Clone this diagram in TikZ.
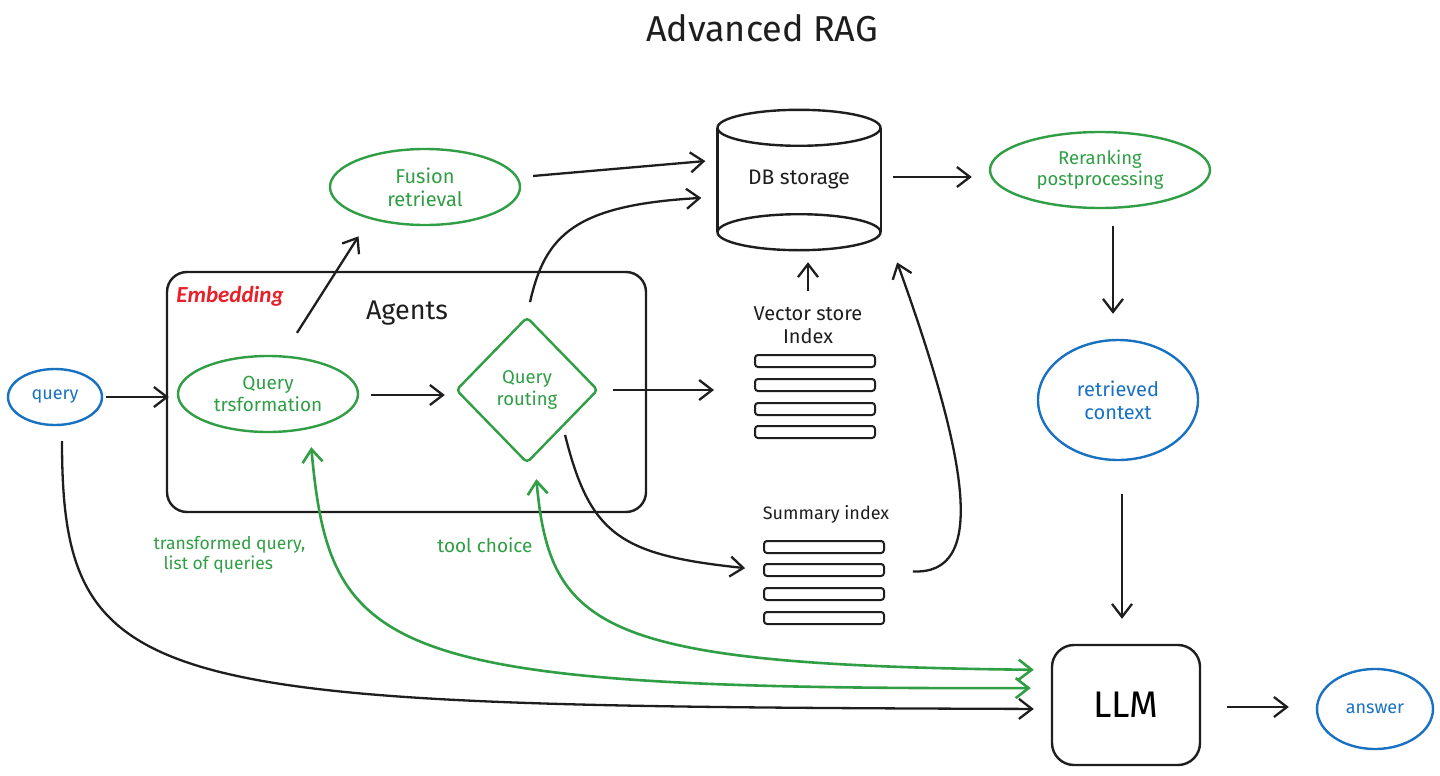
\documentclass[tikz,border=0pt]{standalone}
\usepackage{fontspec}
\setmainfont{Fira Sans}
\newfontfamily\embfont{Carlito}
\usetikzlibrary{shapes.geometric,arrows.meta}
\definecolor{ink}{HTML}{1E1E1E}
\definecolor{grn}{HTML}{2F9E44}
\definecolor{blu}{HTML}{1971C2}
\definecolor{redd}{HTML}{E8202A}
\newcommand{\fsz}[1]{\fontsize{#1}{1.15\dimexpr #1pt\relax}\selectfont}
\begin{document}
\begin{tikzpicture}[x=1pt,y=-1pt,
  tipb/.tip={Straight Barb[length=13pt,width=20pt]},
  arr/.style={draw=ink, line width=2.3pt, -tipb},
  garr/.style={draw=grn, line width=2.6pt, tipb-tipb},
  ell/.style={ellipse, draw, line width=2.4pt, inner sep=0pt, align=center, font=\fsz{19}},
  gell/.style={ell, draw=grn, text=grn},
  bell/.style={ell, draw=blu, text=blu},
  bar/.style={draw=ink, line width=2pt, rounded corners=3pt, minimum width=120pt, minimum height=12pt, inner sep=0pt},
  lbl/.style={font=\fsz{19}, text=ink, align=center},
]
\useasboundingbox (0,0) rectangle (1440,776);
\fill[white] (0,0) rectangle (1440,776);

% nodes
\node[lbl, font=\fsz{36}] (title) at (762,28) {Advanced RAG};
\node[bell, minimum width=94pt, minimum height=56pt, font=\fsz{18}] (query) at (55,397) {query};
\node[draw=ink, line width=2.4pt, rounded corners=20pt, minimum width=479pt, minimum height=240pt] (agents) at (406.5,392) {};
\node[font=\embfont\bfseries\itshape\fsz{23}, text=redd] (emb) at (230,296) {Embedding};
\node[lbl, font=\fsz{27}] (agt) at (407,313) {Agents};
\node[gell, minimum width=180pt, minimum height=76pt] (qt) at (268,394) {Query\\trsformation};
\node[diamond, draw=grn, text=grn, line width=2.4pt, minimum width=142pt, minimum height=146pt, inner sep=0pt, align=center, rounded corners=4pt, font=\fsz{18.5}] (qr) at (527,390) {Query\\routing};
\node[gell, minimum width=190pt, minimum height=76pt, font=\fsz{20}] (fus) at (425,187) {Fusion\\retrieval};

\node[lbl, minimum width=163pt, minimum height=140pt, inner sep=0pt, font=\fsz{21}] (db) at (799,180) {DB storage};
\draw[ink, line width=2.4pt] ([yshift=-18pt]db.north) ellipse [x radius=81.5pt, y radius=18pt];
\draw[ink, line width=2.4pt] ([yshift=18pt]db.south) ellipse [x radius=81.5pt, y radius=18pt];
\draw[ink, line width=2.4pt] ([yshift=-18pt]db.north west) -- ([yshift=18pt]db.south west);
\draw[ink, line width=2.4pt] ([yshift=-18pt]db.north east) -- ([yshift=18pt]db.south east);

\node[gell, minimum width=220pt, minimum height=76pt, font=\fsz{18.5}] (rr) at (1100,170) {Reranking\\postprocessing};
\node[bell, minimum width=160pt, minimum height=120pt, font=\fsz{20}] (rc) at (1118,400) {retrieved\\context};
\node[draw=ink, line width=2.4pt, rounded corners=22pt, minimum width=148pt, minimum height=120pt, font=\fsz{37}] (llm) at (1126,705) {LLM};
\node[bell, minimum width=116pt, minimum height=80pt, font=\fsz{18}] (ans) at (1375,709) {answer};

\node[lbl, font=\fsz{20}] (vl) at (808,325) {Vector store\\Index};
\node[bar] (vs1) at (815,361) {};
\node[bar] (vs2) at (815,385) {};
\node[bar] (vs3) at (815,409) {};
\node[bar] (vs4) at (815,432) {};
\node[lbl, font=\fsz{18}] (sl) at (826,514) {Summary index};
\node[bar] (sm1) at (824,547) {};
\node[bar] (sm2) at (824,570) {};
\node[bar] (sm3) at (824,594) {};
\node[bar] (sm4) at (824,618) {};

\node[lbl, text=grn, align=left, anchor=west, font=\fsz{17.5}] (tq) at (150,555) {transformed query,\\\hspace*{10pt}list of queries};
\node[lbl, text=grn, font=\fsz{19}] (tc) at (485,545) {tool choice};

% connectors
\draw[arr, shorten <=3pt, shorten >=8pt] (query.east) -- (query.east -| qt.west);
\draw[arr, shorten <=12pt, shorten >=10pt] ([yshift=-1pt]qt.east) -- ([yshift=-1pt]qt.east -| qr.west);
\draw[arr, shorten <=26pt, shorten >=12pt] ([xshift=15pt]qt.north) -- ([xshift=-60pt]fus.south);
\draw[arr, shorten <=12pt, shorten >=12pt] ([yshift=10pt]fus.east) -- ([yshift=20pt]db.west);
\draw[arr, shorten <=14pt, shorten >=16pt] (qr.north) .. controls (545,235) and (575,205) .. ([yshift=-17pt]db.west);
\draw[arr, shorten <=14pt, shorten >=40pt] (qr.east) -- (qr.east -| vs1.west);
\draw[arr, shorten <=8pt, shorten >=18pt] (qr.south east) .. controls (590,535) and (620,555) .. (sm2.west);
\draw[arr, shorten <=12pt, shorten >=12pt] (vl.north) -- (db.south -| vl.north);
\draw[arr, shorten <=28pt, shorten >=13pt] (sm2.east) .. controls (985,575) and (972,470) .. ([xshift=12pt]db.south east);
\draw[arr, shorten <=12pt, shorten >=17pt] ([yshift=3pt]db.east) -- ([yshift=3pt]db.east -| rr.west);
\draw[arr, shorten <=17pt, shorten >=25pt] ([xshift=13pt]rr.south) -- ([xshift=13pt]rr.south |- rc.north);
\draw[arr, shorten <=33pt, shorten >=25pt] ([xshift=4pt]rc.south) -- ([xshift=4pt]rc.south |- llm.north);
\draw[arr, shorten <=26pt, shorten >=27pt] ([yshift=-2pt]llm.east) -- ([yshift=-2pt]llm.east -| ans.west);
\draw[arr, shorten <=15pt, shorten >=17pt] ([xshift=7pt]query.south) .. controls (62,700) and (150,706) .. ([yshift=-4pt]llm.west);
\draw[garr, shorten <=14pt, shorten >=20pt] ([xshift=42pt]qt.south) .. controls (330,655) and (380,690) .. ([yshift=17pt]llm.west);
\draw[garr, shorten <=15pt, shorten >=17pt] ([xshift=8pt]qr.south) .. controls (550,630) and (600,665) .. ([yshift=35pt]llm.west);
\end{tikzpicture}
\end{document}
